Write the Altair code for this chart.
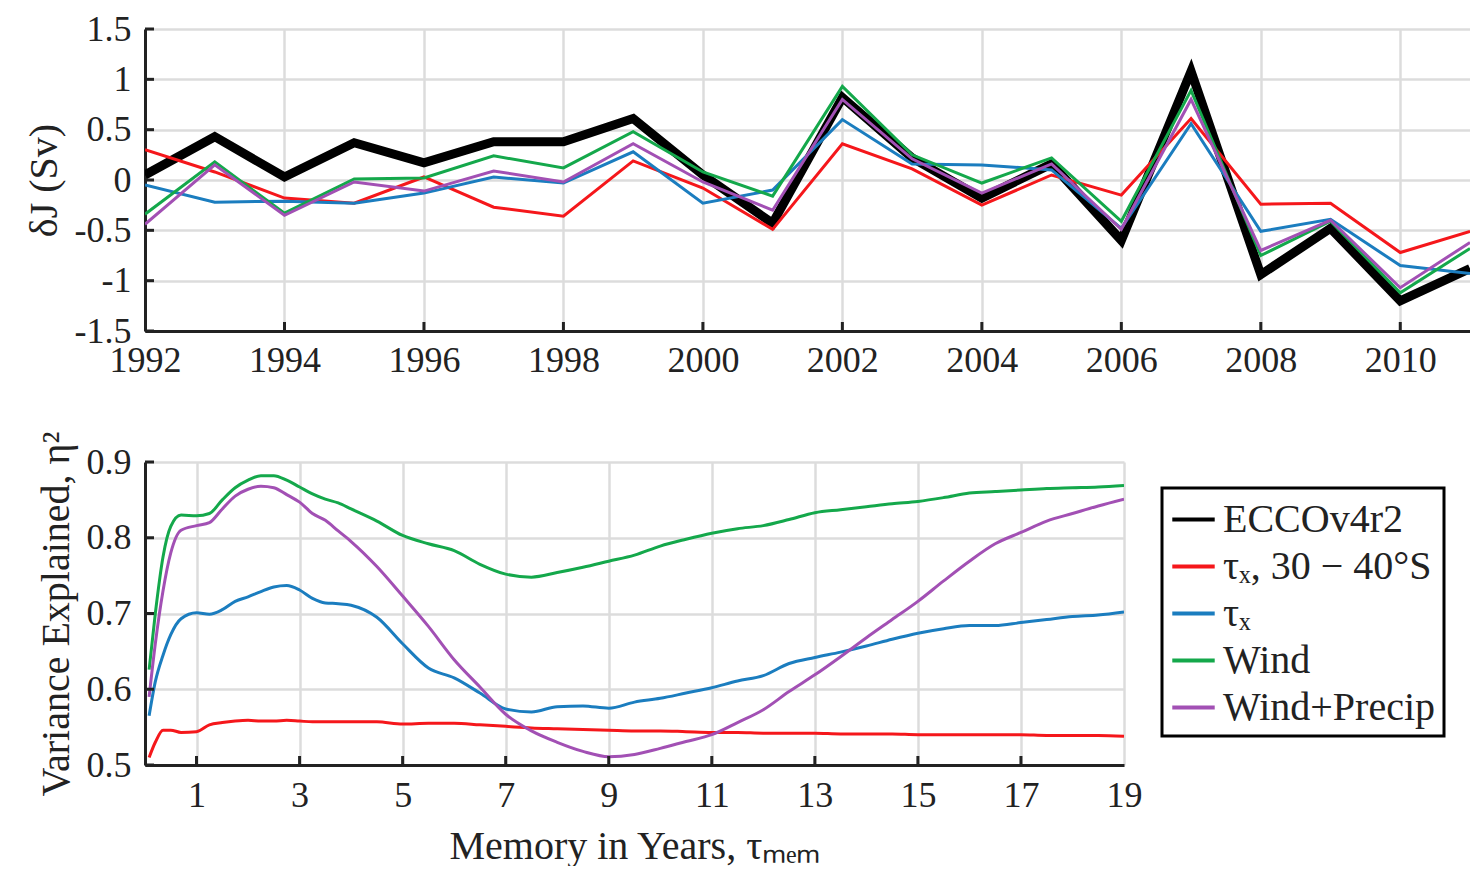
import altair as alt
import pandas as pd

# ---------------- data ----------------
series_names = ["ECCOv4r2", "τₓ, 30 − 40°S", "τₓ", "Wind", "Wind+Precip"]
series_colors = ["#000000", "#F5171B", "#1B7DBF", "#14A84B", "#A250B4"]

years = list(range(1992, 2012))
ecco = [0.05, 0.43, 0.03, 0.37, 0.17, 0.38, 0.38, 0.61, 0.05, -0.43,
        0.82, 0.22, -0.18, 0.16, -0.60, 1.08, -0.94, -0.48, -1.20, -0.88]
tx_30_40 = [0.30, 0.08, -0.18, -0.23, 0.03, -0.27, -0.36, 0.19, -0.08, -0.49,
            0.36, 0.11, -0.25, 0.05, -0.15, 0.61, -0.24, -0.23, -0.72, -0.51]
tx = [-0.05, -0.22, -0.21, -0.23, -0.13, 0.03, -0.03, 0.28, -0.23, -0.10,
      0.60, 0.16, 0.15, 0.10, -0.48, 0.56, -0.51, -0.39, -0.85, -0.93]
wind = [-0.34, 0.18, -0.33, 0.01, 0.02, 0.24, 0.12, 0.48, 0.08, -0.16,
        0.93, 0.25, -0.03, 0.22, -0.41, 0.89, -0.75, -0.41, -1.12, -0.68]
wind_precip = [-0.44, 0.15, -0.35, -0.02, -0.11, 0.09, -0.02, 0.36, -0.02, -0.30,
               0.80, 0.21, -0.13, 0.16, -0.49, 0.80, -0.70, -0.40, -1.07, -0.62]

memory = [0.08, 0.2, 0.35, 0.5, 0.7, 1.0, 1.25, 1.5, 1.75, 2.0, 2.25, 2.5, 2.75,
          3.0, 3.25, 3.5, 3.75, 4.0, 4.5, 5.0, 5.5, 6.0, 6.5, 7.0, 7.5, 8.0, 8.5,
          9.0, 9.5, 10.0, 10.5, 11.0, 11.5, 12.0, 12.5, 13.0, 13.5, 14.0, 14.5,
          15.0, 15.5, 16.0, 16.5, 17.0, 17.5, 18.0, 18.5, 19.0]
eta_tx_30_40 = [0.510, 0.530, 0.546, 0.546, 0.543, 0.544, 0.553, 0.556, 0.558, 0.559,
                0.558, 0.558, 0.559, 0.558, 0.557, 0.557, 0.557, 0.557, 0.557, 0.554,
                0.555, 0.555, 0.553, 0.551, 0.549, 0.548, 0.547, 0.546, 0.545, 0.545,
                0.544, 0.543, 0.543, 0.542, 0.542, 0.542, 0.541, 0.541, 0.541, 0.540,
                0.540, 0.540, 0.540, 0.540, 0.539, 0.539, 0.539, 0.538]
eta_tx = [0.565, 0.610, 0.645, 0.672, 0.693, 0.701, 0.699, 0.705, 0.716, 0.722,
          0.729, 0.735, 0.737, 0.731, 0.720, 0.714, 0.713, 0.711, 0.695, 0.660,
          0.628, 0.615, 0.595, 0.574, 0.570, 0.577, 0.578, 0.575, 0.583, 0.588,
          0.595, 0.602, 0.611, 0.618, 0.634, 0.642, 0.649, 0.657, 0.666, 0.674,
          0.680, 0.684, 0.684, 0.688, 0.692, 0.696, 0.698, 0.702]
eta_wind = [0.626, 0.700, 0.775, 0.815, 0.830, 0.829, 0.832, 0.850, 0.866, 0.876,
            0.882, 0.882, 0.876, 0.867, 0.858, 0.851, 0.846, 0.838, 0.822, 0.803,
            0.792, 0.783, 0.765, 0.752, 0.748, 0.754, 0.761, 0.769, 0.777, 0.789,
            0.798, 0.806, 0.812, 0.816, 0.824, 0.833, 0.837, 0.841, 0.845, 0.848,
            0.853, 0.859, 0.861, 0.863, 0.865, 0.866, 0.867, 0.869]
eta_wind_precip = [0.590, 0.660, 0.730, 0.780, 0.810, 0.816, 0.820, 0.838, 0.855, 0.864,
                   0.868, 0.866, 0.857, 0.847, 0.832, 0.823, 0.809, 0.795, 0.762, 0.723,
                   0.683, 0.639, 0.603, 0.567, 0.545, 0.530, 0.518, 0.511, 0.514, 0.522,
                   0.531, 0.540, 0.556, 0.573, 0.597, 0.619, 0.643, 0.668, 0.692, 0.716,
                   0.743, 0.769, 0.792, 0.807, 0.822, 0.832, 0.842, 0.851]

top_xticks = [1992, 1994, 1996, 1998, 2000, 2002, 2004, 2006, 2008, 2010]
top_yticks = [-1.5, -1.0, -0.5, 0.0, 0.5, 1.0, 1.5]
bot_xticks = [1, 3, 5, 7, 9, 11, 13, 15, 17, 19]
bot_yticks = [0.5, 0.6, 0.7, 0.8, 0.9]

# ---------------- tables ----------------
top_rows = []
for name, vals in zip(series_names, [ecco, tx_30_40, tx, wind, wind_precip]):
    for y, v in zip(years, vals):
        top_rows.append({"year": y, "series": name, "value": v})
top_df = pd.DataFrame(top_rows)

bot_rows = []
for name, vals in zip(series_names[1:], [eta_tx_30_40, eta_tx, eta_wind, eta_wind_precip]):
    for m, v in zip(memory, vals):
        bot_rows.append({"memory": m, "series": name, "eta": v})
bot_df = pd.DataFrame(bot_rows)

FONT = "Liberation Serif"
TXT = "#222222"
W1, H1 = 1325, 302
W2, H2 = 979, 303
TICK = 9

color_scale = alt.Scale(domain=series_names, range=series_colors)

# ---------------- top panel ----------------
xs_top = alt.Scale(domain=[1992, 2011], nice=False, zero=False)
ys_top = alt.Scale(domain=[-1.5, 1.5], nice=False)

x_top_axis = alt.Axis(values=top_xticks, format="d", title=None, ticks=False,
                      labelPadding=12)
y_top_axis = alt.Axis(values=top_yticks, labelExpr="'' + datum.value",
                      title="δJ (Sv)", ticks=False, labelPadding=14, titlePadding=10)

top_black = alt.Chart(top_df).transform_filter(
    alt.datum.series == "ECCOv4r2"
).mark_line(color="black", strokeWidth=9, clip=True).encode(
    x=alt.X("year:Q", scale=xs_top, axis=x_top_axis),
    y=alt.Y("value:Q", scale=ys_top, axis=y_top_axis),
)
top_col = alt.Chart(top_df).transform_filter(
    alt.datum.series != "ECCOv4r2"
).mark_line(strokeWidth=3, clip=True).encode(
    x=alt.X("year:Q", scale=xs_top),
    y=alt.Y("value:Q", scale=ys_top),
    color=alt.Color("series:N", scale=color_scale, legend=None),
    detail="series:N",
)
top_xt = alt.Chart(pd.DataFrame({"t": top_xticks[1:]})).mark_rule(
    color="#222", strokeWidth=3).encode(
    x=alt.X("t:Q", scale=xs_top), y=alt.value(H1), y2=alt.value(H1 - TICK))
top_yt = alt.Chart(pd.DataFrame({"t": top_yticks})).mark_rule(
    color="#222", strokeWidth=3).encode(
    y=alt.Y("t:Q", scale=ys_top), x=alt.value(0), x2=alt.value(TICK))

top = alt.layer(top_black, top_col, top_xt, top_yt).properties(width=W1, height=H1)

# ---------------- bottom panel ----------------
xs_bot = alt.Scale(domain=[0, 19], nice=False, zero=False)
ys_bot = alt.Scale(domain=[0.5, 0.9], nice=False, zero=False)

x_bot_axis = alt.Axis(values=bot_xticks, title="Memory in Years, τₘₑₘ", ticks=False,
                      labelPadding=13, titlePadding=13)
y_bot_axis = alt.Axis(values=bot_yticks, format=".1f", title="Variance Explained, η²",
                      ticks=False, labelPadding=14, titlePadding=10)

bot_lines = alt.Chart(bot_df).mark_line(strokeWidth=3, interpolate="monotone", clip=True).encode(
    x=alt.X("memory:Q", scale=xs_bot, axis=x_bot_axis),
    y=alt.Y("eta:Q", scale=ys_bot, axis=y_bot_axis),
    color=alt.Color("series:N", scale=color_scale,
                    legend=alt.Legend(orient="none", legendX=1017, legendY=26,
                                      title=None, symbolType="stroke",
                                      symbolSize=1800, symbolStrokeWidth=4,
                                      labelFontSize=40, labelFont=FONT,
                                      labelColor=TXT, labelOffset=6,
                                      rowPadding=3, padding=8,
                                      strokeColor="black", fillColor="white",
                                      labelLimit=400)),
    detail="series:N",
)
bot_xt = alt.Chart(pd.DataFrame({"t": bot_xticks[:-1]})).mark_rule(
    color="#222", strokeWidth=3).encode(
    x=alt.X("t:Q", scale=xs_bot), y=alt.value(H2), y2=alt.value(H2 - TICK))
bot_yt = alt.Chart(pd.DataFrame({"t": bot_yticks})).mark_rule(
    color="#222", strokeWidth=3).encode(
    y=alt.Y("t:Q", scale=ys_bot), x=alt.value(0), x2=alt.value(TICK))

bottom = alt.layer(bot_lines, bot_xt, bot_yt).properties(width=W2, height=H2)

chart = alt.vconcat(top, bottom, spacing=131, bounds="flush").resolve_scale(
    color="independent"
).properties(
    padding={"left": 16, "top": 3, "right": 0, "bottom": 0}
).configure_view(stroke=None).configure_axis(
    labelFont=FONT, titleFont=FONT, labelFontSize=36, titleFontSize=40,
    labelColor=TXT, titleColor=TXT, titleFontWeight="normal",
    domainColor="#222", domainWidth=3, gridColor="#dcdcdc", gridWidth=2.5,
    labelFlush=False,
).configure_legend(strokeWidth=3)

chart.save("out.html", embed_options={"renderer": "svg", "actions": False})
